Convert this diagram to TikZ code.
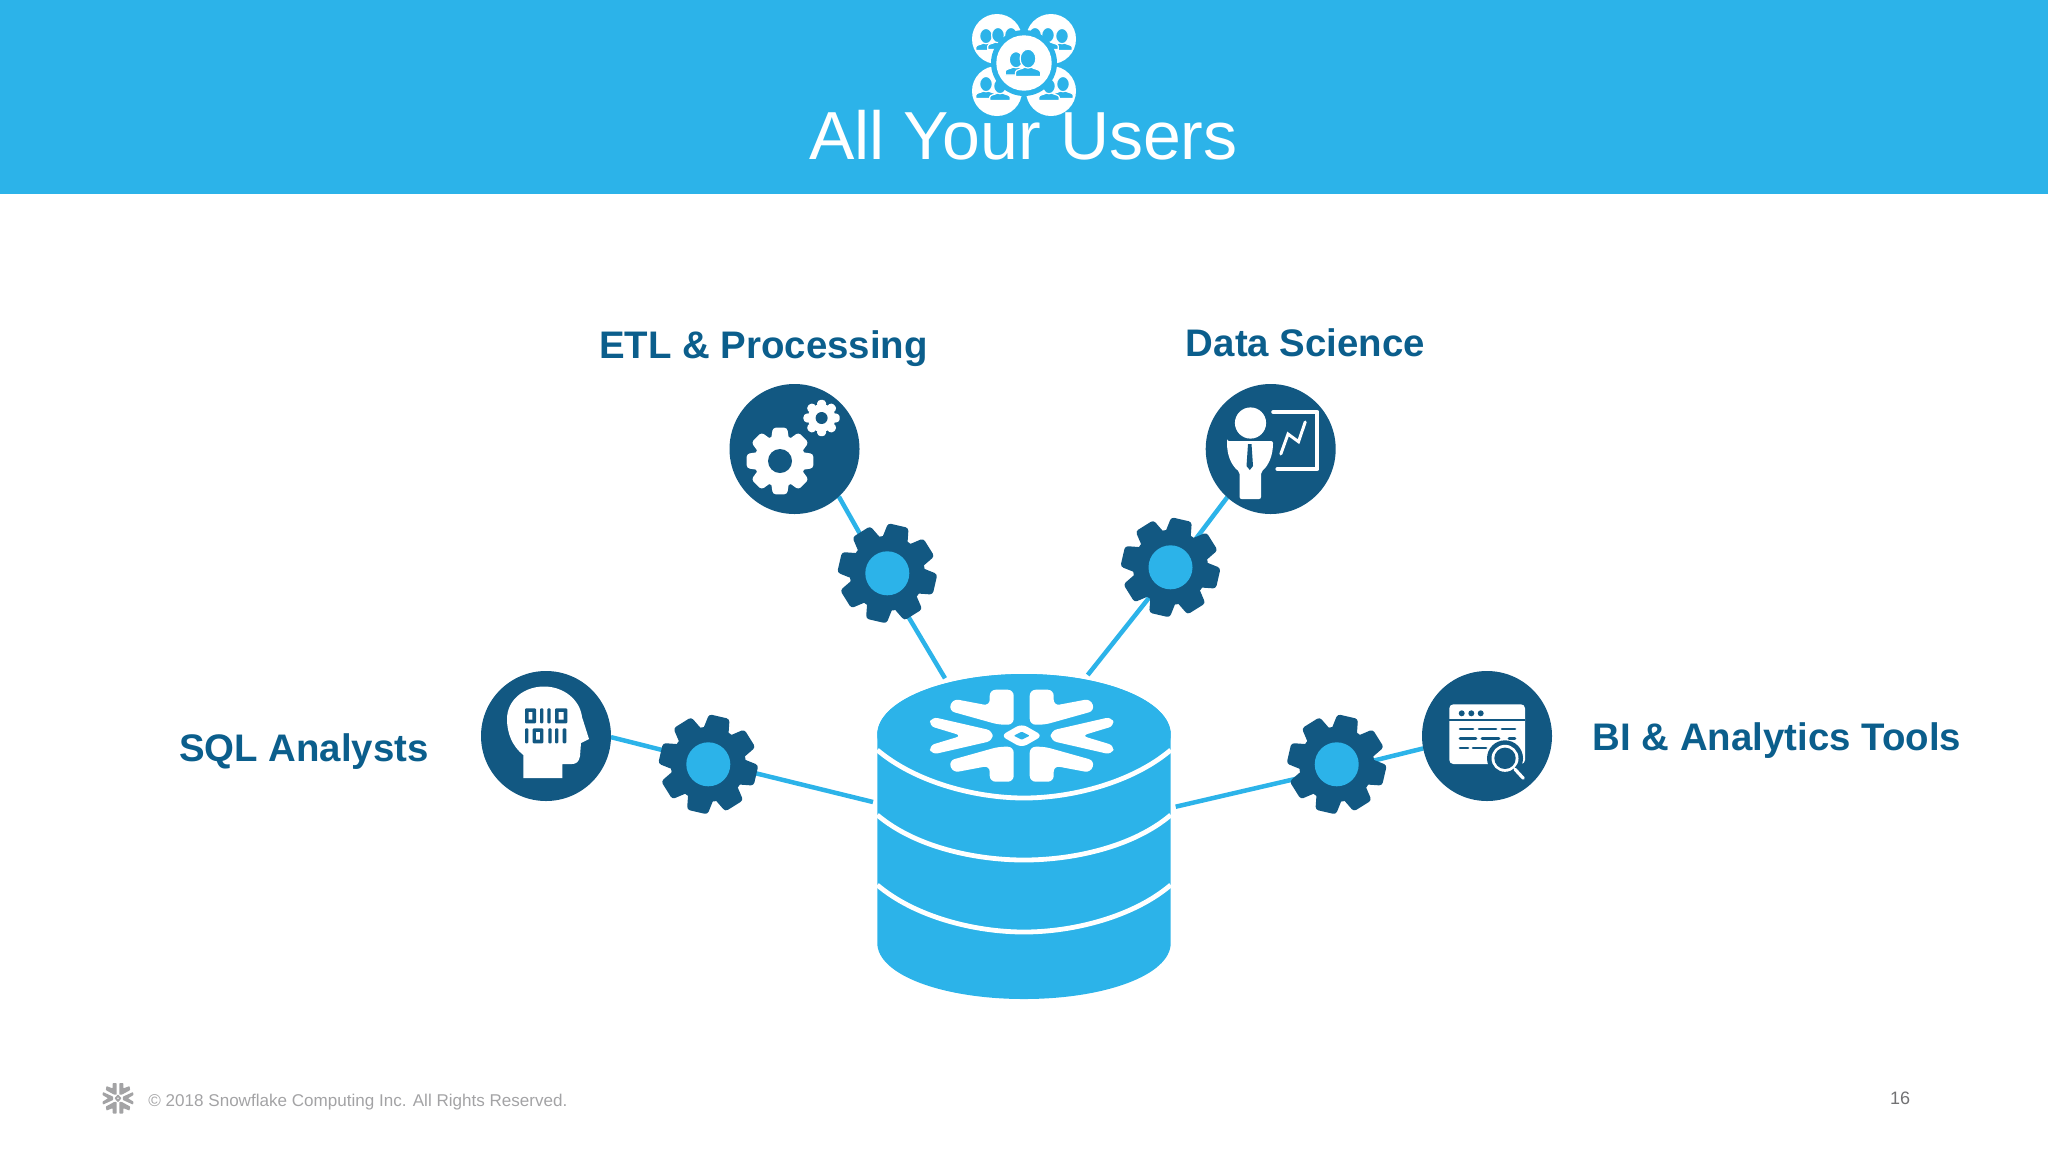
\documentclass[tikz,border=0pt]{standalone}
\usepackage{fontspec}
\setmainfont{Liberation Sans}
\usetikzlibrary{backgrounds}
\definecolor{skyblue}{HTML}{2CB3E9}
\definecolor{deepblue}{HTML}{125882}
\definecolor{labelblue}{HTML}{0B5E8C}
\definecolor{footgrey}{HTML}{A3A3A5}
\tikzset{
  icon/.style={circle,fill=deepblue,minimum size=65pt,inner sep=0pt,outer sep=0pt},
  hub/.style={circle,fill=skyblue,minimum size=22pt,inner sep=0pt,outer sep=0pt},
  toolname/.style={text=labelblue,font=\bfseries\fontsize{19.2}{23}\selectfont,anchor=base,inner sep=0pt},
  link/.style={skyblue,line width=2.25pt},
  snowround/.style={rounded corners=3pt},
  cog/.pic={
    \foreach \a in {0,45,...,315}
      \fill[rotate=\a,rounded corners=1.5pt] (30,-13.5) -- (49,-10.5) -- (49,10.5) -- (30,13.5) -- cycle;
    \fill (0,0) circle (37.5);
  },
  snowflake/.pic={
    \foreach \sx/\sy in {1/1,-1/1,1/-1,-1/-1}
      \fill[xscale=\sx,yscale=\sy,snowround]
        (-32,-46) -- (-8,-46) -- (-8,-11) -- (-23,-11) -- (-73,-25) -- (-69,-37) -- (-32,-30) -- cycle;
    \foreach \sx in {1,-1}
      \fill[xscale=\sx,snowround]
        (-90,-19) -- (-29,-5) -- (-29,5) -- (-90,19) -- (-93,10) -- (-60,0) -- (-93,-10) -- cycle;
    \fill[snowround] (-21,0) -- (0,-12) -- (21,0) -- (0,12) -- cycle;
    \fill[#1,rounded corners=.5pt] (-8,0) -- (0,-4) -- (8,0) -- (0,4) -- cycle;
  },
  person/.pic={
    \filldraw[fill=skyblue,draw=white,line width=.6pt] (-12,10) -- (-12,6) .. controls (-12,3) and (-5,3) .. (-3,1) -- (3,1)
      .. controls (5,3) and (12,3) .. (12,6) -- (12,10) -- cycle;
    \filldraw[fill=skyblue,draw=white,line width=.6pt] (0,-7) ellipse (7.5 and 9);
  },
}
\begin{document}
\begin{tikzpicture}[x=.5pt,y=-.5pt]
  \useasboundingbox (0,0) rectangle (2048,1152);
  % banner
  \fill[skyblue] (0,0) rectangle (2048,194);
  \fill[white] (997,39) circle (25) (1051,39) circle (25) (997,91) circle (25) (1051,91) circle (25);
  \foreach \x/\y/\s in {1011/41/.85,986/42/.85,998/41/.85,1062/42/.85,1035/41/.85,1048/41/.85,
      986/90/.85,1000/92/.85,1063/90/.85,1049/92/.85}
    \pic[scale=\s] at (\x,\y) {person};
  \fill[skyblue] (1024,63) circle (33);
  \fill[white] (1024,63) circle (27.7);
  \pic[scale=.9] at (1016,66) {person};
  \pic[scale=1.05] at (1028,66) {person};
  \node[anchor=base,text=white,inner sep=0pt,font=\fontsize{34}{40}\selectfont] (title) at (1023.5,159.5) {All Your Users};
  % tools
  \node[icon] (etl) at (794.5,449) {};
  \node[icon] (science) at (1270.7,449) {};
  \node[icon] (sql) at (546,736) {};
  \node[icon] (bi) at (1487,736) {};
  \node[toolname] (etllabel) at (763.5,358) {ETL \& Processing};
  \node[toolname] (sciencelabel) at (1305.5,356) {Data Science};
  \node[toolname] (sqllabel) at (304,761) {SQL Analysts};
  \node[toolname] (bilabel) at (1777,750) {BI \& Analytics Tools};
  % cogs
  \foreach \name/\x/\y in {etlcog/887.3/573.3,sciencecog/1170.5/567.3,sqlcog/708.3/764.3,bicog/1336.7/764.3} {
    \pic[deepblue,rotate=-13] at (\x,\y) {cog};
    \node[hub] (\name) at (\x,\y) {};
  }
  % database
  \coordinate (etlend) at (945,678.3);
  \coordinate (scienceend) at (1087.7,675);
  \coordinate (sqlend) at (873,802);
  \coordinate (biend) at (1175.7,806.7);
  \begin{scope}[on background layer]
    \draw[link] (etl.-47.7) -- (etlcog.131);
    \draw[link] (etlcog.-70.3) -- (etlend);
    \draw[link] (science.228.9) -- (sciencecog.45.8);
    \draw[link] (sciencecog.237.2) -- (scienceend);
    \draw[link] (sql.-1.7) -- (sqlcog.159.4);
    \draw[link] (sqlcog.-7) -- (sqlend);
    \draw[link] (bi.191.7) -- (bicog.0.2);
    \draw[link] (bicog.206) -- (biend);
  \end{scope}
  \fill[skyblue] (877.3,734.5) arc (180:360:146.7 and 60.5) -- (1170.7,943)
    .. controls (1170.7,975) and (1105,999) .. (1024,999)
    .. controls (943,999) and (877.3,975) .. (877.3,943) -- cycle;
  \fill[skyblue] (1024,734.5) ellipse (146.7 and 60.5);
  \foreach \t/\b in {750/798,815/860,885/932}
    \draw[white,line width=2.4pt] (877.3,\t) .. controls (915,{\t+32}) and (975,\b) .. (1024,\b)
      .. controls (1073,\b) and (1133,{\t+32}) .. (1170.7,\t);
  \pic[white] at (1021.7,735.7) {snowflake=skyblue};
  % etl icon
  \pic[white,scale=.68] at (780,461) {cog};
  \fill[deepblue] (780,461) circle (12);
  \pic[white,scale=.37] at (821.6,418) {cog};
  \fill[deepblue] (821.6,418) circle (6);
  % science icon
  \fill[white] (1250.5,423) circle (15.6);
  \fill[white,rounded corners=1pt] (1227,441) -- (1273,441) .. controls (1273,455) and (1269,465) .. (1261,472)
    -- (1261,499) -- (1239.6,499) -- (1239.6,472) .. controls (1231,465) and (1227,455) .. (1227,441) -- cycle;
  \fill[deepblue] (1248,444) -- (1251.5,444) -- (1253,466) -- (1249.8,470) -- (1246.5,466) -- cycle;
  \draw[white,line width=2pt,line cap=round,line join=round] (1273.2,412) -- (1317.4,412) -- (1317.4,469) -- (1277.4,469);
  \draw[white,line width=1.5pt,line cap=round] (1280.8,454) -- (1288,434) -- (1298.5,441.7) -- (1305.2,422);
  % sql icon
  \fill[white] (523.3,778) -- (523.3,755) .. controls (512,746) and (507,733) .. (507,719)
    .. controls (507,700) and (524,686.5) .. (544,686.5) .. controls (564,686.5) and (580,700) .. (582,717)
    -- (589,739) -- (581,743) -- (580,756) .. controls (579,762) and (576,764) .. (572,764)
    -- (562.3,764) -- (562.3,778) -- cycle;
  \foreach \x/\y/\w in {525/708.3/11,540/708.3/3.4,547.3/708.3/3.4,555/708.3/12.3,
      525/728.3/3.4,532.7/728.3/10.6,548.3/728.3/3.4,555/728.3/3.4,562.7/728.3/3.6}
    \fill[deepblue,rounded corners=.5pt] (\x,\y) rectangle ++(\w,15);
  \fill[white] (528.7,712) rectangle (532.3,719.6) (558.7,712) rectangle (563.6,719.6) (536.2,732) rectangle (539.8,739.6);
  % bi icon
  \fill[white,rounded corners=2pt] (1449.3,704.3) rectangle (1525,764);
  \draw[deepblue,line width=1pt] (1449.3,720) -- (1525,720);
  \foreach \x in {1461.7,1471.3,1480.7}
    \fill[deepblue] (\x,713.3) circle (3);
  \draw[deepblue,line width=1.3pt,line cap=round]
    (1460,729) -- (1473,729) (1479,729) -- (1496,729) (1502,729) -- (1515,729)
    (1460,738.5) -- (1476,738.5) (1482,738.5) -- (1499,738.5) (1509,738.5) -- (1515,738.5)
    (1460,748) -- (1468,748) (1473,748) -- (1486,748);
  \fill[deepblue] (1505,758.3) circle (18);
  \fill[white] (1505,758.3) circle (13.5);
  \fill[deepblue] (1505,758.3) circle (10.7);
  \draw[white,line width=1.6pt,line cap=round] (1515,769.3) -- (1523.3,778.3);
  % footer
  \pic[footgrey,xscale=.167,yscale=.33,snowround/.style={rounded corners=.3pt}] at (118,1098.3) {snowflake=white};
  \node[anchor=base west,text=footgrey,inner sep=0pt,font=\fontsize{8.53}{11}\selectfont] (copyright) at (148,1106) {© 2018 Snowflake Computing Inc. All Rights Reserved.};
  \node[anchor=base,text=footgrey!70!black,inner sep=0pt,font=\fontsize{9}{11}\selectfont] (pagenum) at (1900,1104) {16};
\end{tikzpicture}
\end{document}
